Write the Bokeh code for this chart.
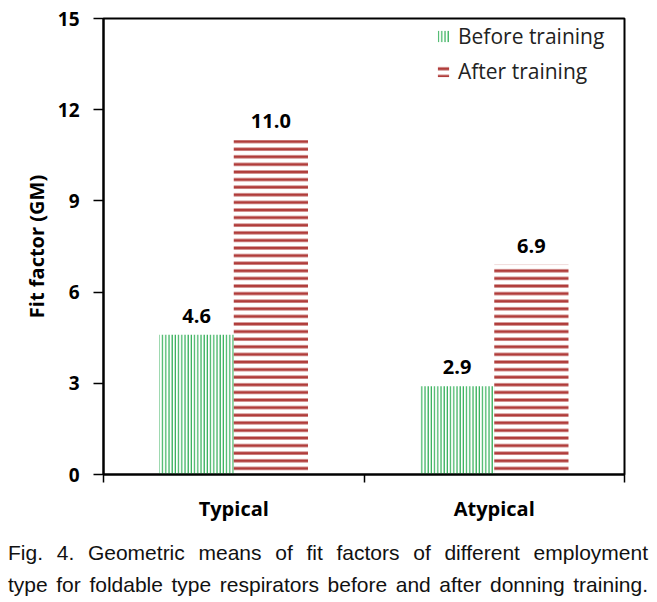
from bokeh.plotting import figure
from bokeh.models import (Range1d, FixedTicker, ColumnDataSource, Legend, LegendItem, Div)
from bokeh.layouts import column
from bokeh.core.properties import value
from bokeh.embed import file_html
from bokeh.resources import INLINE

# ---- data ----
categories = ["Typical", "Atypical"]
before_training = [4.6, 2.9]
after_training = [11.0, 6.9]
y_ticks = [0, 3, 6, 9, 12, 15]
caption_line1 = "Fig. 4. Geometric means of fit factors of different employment"
caption_line2 = "type for foldable type respirators before and after donning training."

BAR_W = 0.285
centers = [i + 0.5 for i in range(len(categories))]
src = ColumnDataSource(dict(
    xb=[c - BAR_W / 2 for c in centers],
    xa=[c + BAR_W / 2 for c in centers],
    before=before_training,
    after=after_training,
    before_lbl=[f"{v:.1f}" for v in before_training],
    after_lbl=[f"{v:.1f}" for v in after_training],
))

FONT = "Open Sans"

p = figure(width=649, height=524, output_backend="svg", toolbar_location=None,
           x_range=Range1d(0, len(categories)), y_range=Range1d(0, 15),
           min_border_left=103, min_border_right=25, min_border_top=18, min_border_bottom=50)
p.grid.visible = False
p.outline_line_color = "black"
p.outline_line_width = 2
p.background_fill_color = "white"
p.border_fill_color = "white"

rb = p.vbar(x="xb", top="before", width=BAR_W, source=src, fill_color=None, line_color=None,
            hatch_pattern="vertical_line", hatch_color="#2fae55", hatch_scale=3.2, hatch_weight=1.2)
ra = p.vbar(x="xa", top="after", width=BAR_W, source=src, fill_color=None, line_color=None,
            hatch_pattern="horizontal_line", hatch_color="#b03c3a", hatch_scale=7.6, hatch_weight=3)

for xcol, ycol, lcol in (("xb", "before", "before_lbl"), ("xa", "after", "after_lbl")):
    p.text(x=xcol, y=ycol, text=lcol, source=src, text_align="center", text_baseline="bottom",
           y_offset=-12, text_font=value(FONT), text_font_style="bold", text_font_size="20px",
           text_color="black")

# y axis
ya = p.yaxis[0]
ya.ticker = FixedTicker(ticks=y_ticks)
ya.axis_line_width = 2
ya.major_tick_line_width = 1.5
ya.major_tick_out = 10
ya.major_tick_in = 0
ya.minor_tick_line_color = None
ya.major_label_standoff = 14
ya.major_label_text_font = FONT
ya.major_label_text_font_style = "bold"
ya.major_label_text_font_size = "19px"
ya.major_label_text_color = "black"
ya.axis_label = "Fit factor (GM)"
ya.axis_label_text_font = FONT
ya.axis_label_text_font_style = "bold"
ya.axis_label_text_font_size = "20px"
ya.axis_label_text_color = "black"
ya.axis_label_standoff = 5

# x axis
xa = p.xaxis[0]
xa.ticker = FixedTicker(ticks=centers, minor_ticks=list(range(len(categories) + 1)))
xa.major_label_overrides = {c: name for c, name in zip(centers, categories)}
xa.axis_line_width = 2
xa.major_tick_line_color = None
xa.minor_tick_line_width = 1.5
xa.minor_tick_out = 8
xa.minor_tick_in = 0
xa.major_label_standoff = 12
xa.major_label_text_font = FONT
xa.major_label_text_font_style = "bold"
xa.major_label_text_font_size = "20px"
xa.major_label_text_color = "black"

legend = Legend(items=[LegendItem(label="Before training", renderers=[rb]),
                       LegendItem(label="After training", renderers=[ra])],
                location="top_right", border_line_color=None, background_fill_alpha=0,
                glyph_width=14, glyph_height=14, label_standoff=8, spacing=7,
                padding=5, margin=4, label_width=162,
                label_text_font=FONT, label_text_font_size="21px",
                label_text_color="#222222")
p.add_layout(legend)

cap_style = ("font-family:'Liberation Sans',Arial,sans-serif;font-size:21px;box-sizing:content-box;"
             "width:640px;margin:0;padding:0;"
             "color:#111;line-height:32px;text-align:justify;text-align-last:justify;")
caption = Div(text=f"<div style=\"padding:13px 0 0 8px;\">"
                   f"<div style=\"{cap_style}\">{caption_line1}</div>"
                   f"<div style=\"{cap_style}\">{caption_line2}</div></div>",
              width=649, height=78, styles={"overflow": "hidden", "margin": "0", "padding": "0"})

layout = column(p, caption, spacing=0)
open("out.html", "w").write(file_html(layout, INLINE))
